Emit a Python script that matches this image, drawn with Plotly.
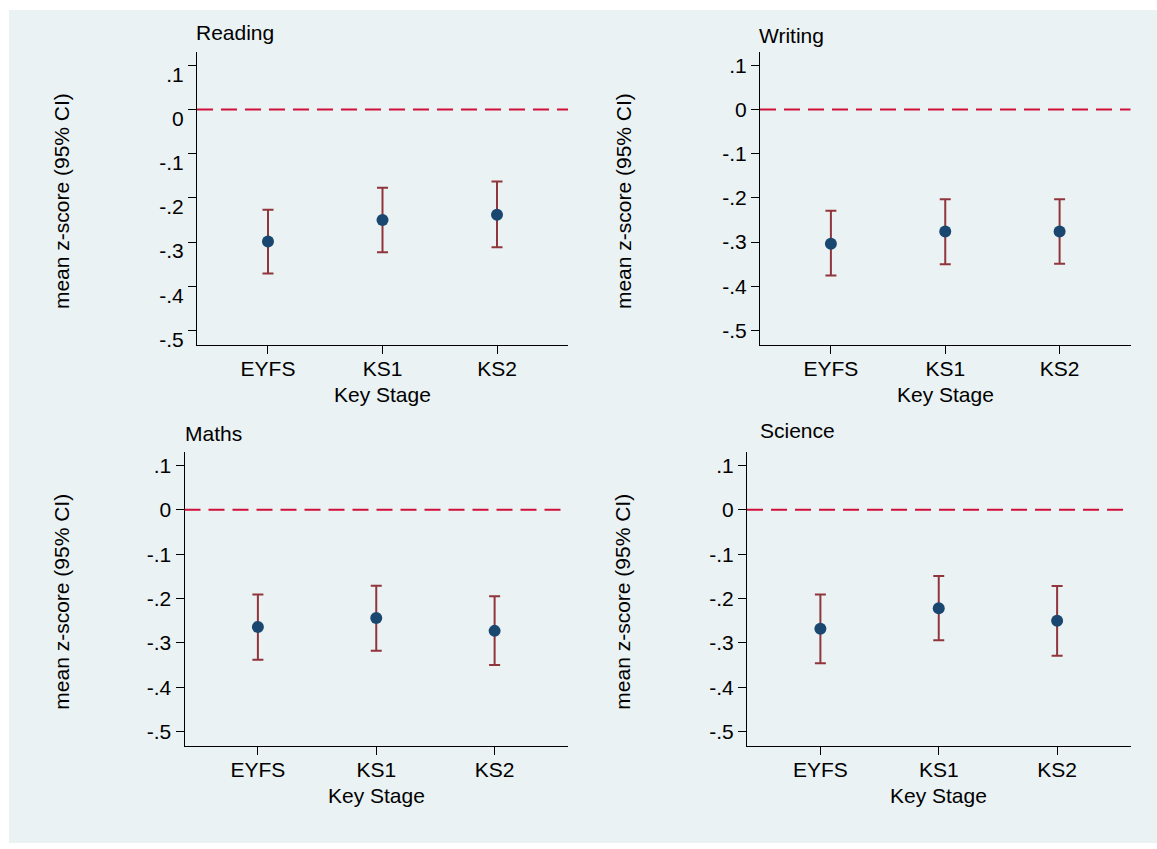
import plotly.graph_objects as go

W, H = 1157, 849

stages = ["EYFS", "KS1", "KS2"]
subjects = ["Reading", "Writing", "Maths", "Science"]

reading_mean = [-0.299, -0.250, -0.238]
reading_lo = [-0.371, -0.323, -0.312]
reading_hi = [-0.227, -0.177, -0.163]

writing_mean = [-0.304, -0.276, -0.276]
writing_lo = [-0.376, -0.350, -0.349]
writing_hi = [-0.229, -0.203, -0.203]

maths_mean = [-0.264, -0.244, -0.273]
maths_lo = [-0.338, -0.318, -0.350]
maths_hi = [-0.191, -0.171, -0.195]

science_mean = [-0.268, -0.222, -0.250]
science_lo = [-0.346, -0.294, -0.329]
science_hi = [-0.191, -0.149, -0.172]

ytick_vals = [0.1, 0, -0.1, -0.2, -0.3, -0.4, -0.5]
ytick_text = [".1", "0", "-.1", "-.2", "-.3", "-.4", "-.5"]
grid_vals = [-0.1, -0.2, -0.3, -0.4]

data = {
    "Reading": (reading_mean, reading_lo, reading_hi),
    "Writing": (writing_mean, writing_lo, writing_hi),
    "Maths": (maths_mean, maths_lo, maths_hi),
    "Science": (science_mean, science_lo, science_hi),
}

# panel pixel boxes: left, right, top, bottom
boxes = {
    "Reading": (197, 568, 52, 347),
    "Writing": (760, 1130.5, 52, 347),
    "Maths": (184.5, 568, 455, 751),
    "Science": (747, 1130.5, 455, 751),
}
title_pos = {
    "Reading": (194, 33),
    "Writing": (757, 36),
    "Maths": (183, 437),
    "Science": (758, 434),
}
ytitle_x = {"Reading": 61, "Writing": 623, "Maths": 62, "Science": 623}

FONT = "Liberation Sans, Arial, sans-serif"
FS = 21
NAVY = "#1A476F"
MAROON = "#90353B"
RED = "#D0103A"
GRID = "#EAF2F3"
BG = "#EAF2F3"

fig = go.Figure()
annotations = []
shapes = [dict(type="rect", xref="paper", yref="paper", x0=9 / W, x1=1.0,
               y0=0, y1=1 - 10 / H, fillcolor=BG, line_width=0, layer="below")]

for i, s in enumerate(subjects):
    k = "" if i == 0 else str(i + 1)
    xa, ya = "x" + k, "y" + k
    mean, lo, hi = data[s]
    plus = [h - m for h, m in zip(hi, mean)]
    minus = [m - l for m, l in zip(mean, lo)]
    fig.add_trace(go.Scatter(
        x=[1, 2, 3], y=mean, mode="markers", xaxis=xa, yaxis=ya,
        marker=dict(color=NAVY, size=12),
        error_y=dict(type="data", array=plus, arrayminus=minus, color=MAROON,
                     thickness=2, width=5.5),
        showlegend=False, hoverinfo="skip"))
    l, r, t, b = boxes[s]
    dom_x = [l / W, r / W]
    dom_y = [1 - b / H, 1 - t / H]
    fig.layout["xaxis" + k] = dict(
        domain=dom_x, range=[0.38, 3.62], anchor=ya, tickvals=[1, 2, 3],
        ticktext=stages, showgrid=False, zeroline=False, showline=True,
        linecolor="black", linewidth=1, ticks="outside", ticklen=8,
        ticklabelstandoff=-3,
        tickcolor="black", tickfont=dict(family=FONT, size=FS, color="black"))
    yax = dict(
        domain=dom_y, range=[-0.532, 0.131], anchor=xa, tickvals=ytick_vals,
        ticktext=ytick_text, showgrid=False, zeroline=False, showline=True,
        linecolor="black", linewidth=1, ticks="outside", ticklen=8,
        tickcolor="black", tickfont=dict(family=FONT, size=FS, color="black"))
    if s == "Reading":
        yax["ticklabelshift"] = 9
    fig.layout["yaxis" + k] = yax
    for g in grid_vals:
        shapes.append(dict(type="line", xref=xa + " domain", yref=ya, x0=0, x1=1,
                           y0=g, y1=g, line=dict(color=GRID, width=1.5), layer="below"))
    shapes.append(dict(type="line", xref=xa + " domain", yref=ya, x0=0, x1=1,
                       y0=0, y1=0, line=dict(color=RED, width=2, dash="16px,8px")))
    tx, ty = title_pos[s]
    annotations.append(dict(text=s, xref="paper", yref="paper", x=tx / W, y=1 - ty / H,
                            xanchor="left", yanchor="middle", showarrow=False,
                            font=dict(family=FONT, size=FS, color="black")))
    annotations.append(dict(text="Key Stage", xref="paper", yref="paper",
                            x=(l + r) / 2 / W, y=1 - (b + 50) / H,
                            xanchor="center", yanchor="middle",
                            showarrow=False, font=dict(family=FONT, size=FS, color="black")))
    annotations.append(dict(text="mean z-score (95% CI)", xref="paper", yref="paper",
                            x=ytitle_x[s] / W, y=1 - ((t + b) / 2 + 3) / H, textangle=-90,
                            xanchor="center", yanchor="middle", showarrow=False,
                            font=dict(family=FONT, size=FS, color="black")))

fig.update_layout(
    width=W, height=H, margin=dict(l=0, r=0, t=0, b=0),
    paper_bgcolor="white", plot_bgcolor="white",
    shapes=shapes, annotations=annotations, showlegend=False,
)

post = ("document.body.style.margin='0';"
        "var d=document.getElementById('{plot_id}');"
        "d.style.position='absolute';d.style.top='0px';d.style.left='0px';")
fig.write_html("out.html", post_script=post, config={"displayModeBar": False})
